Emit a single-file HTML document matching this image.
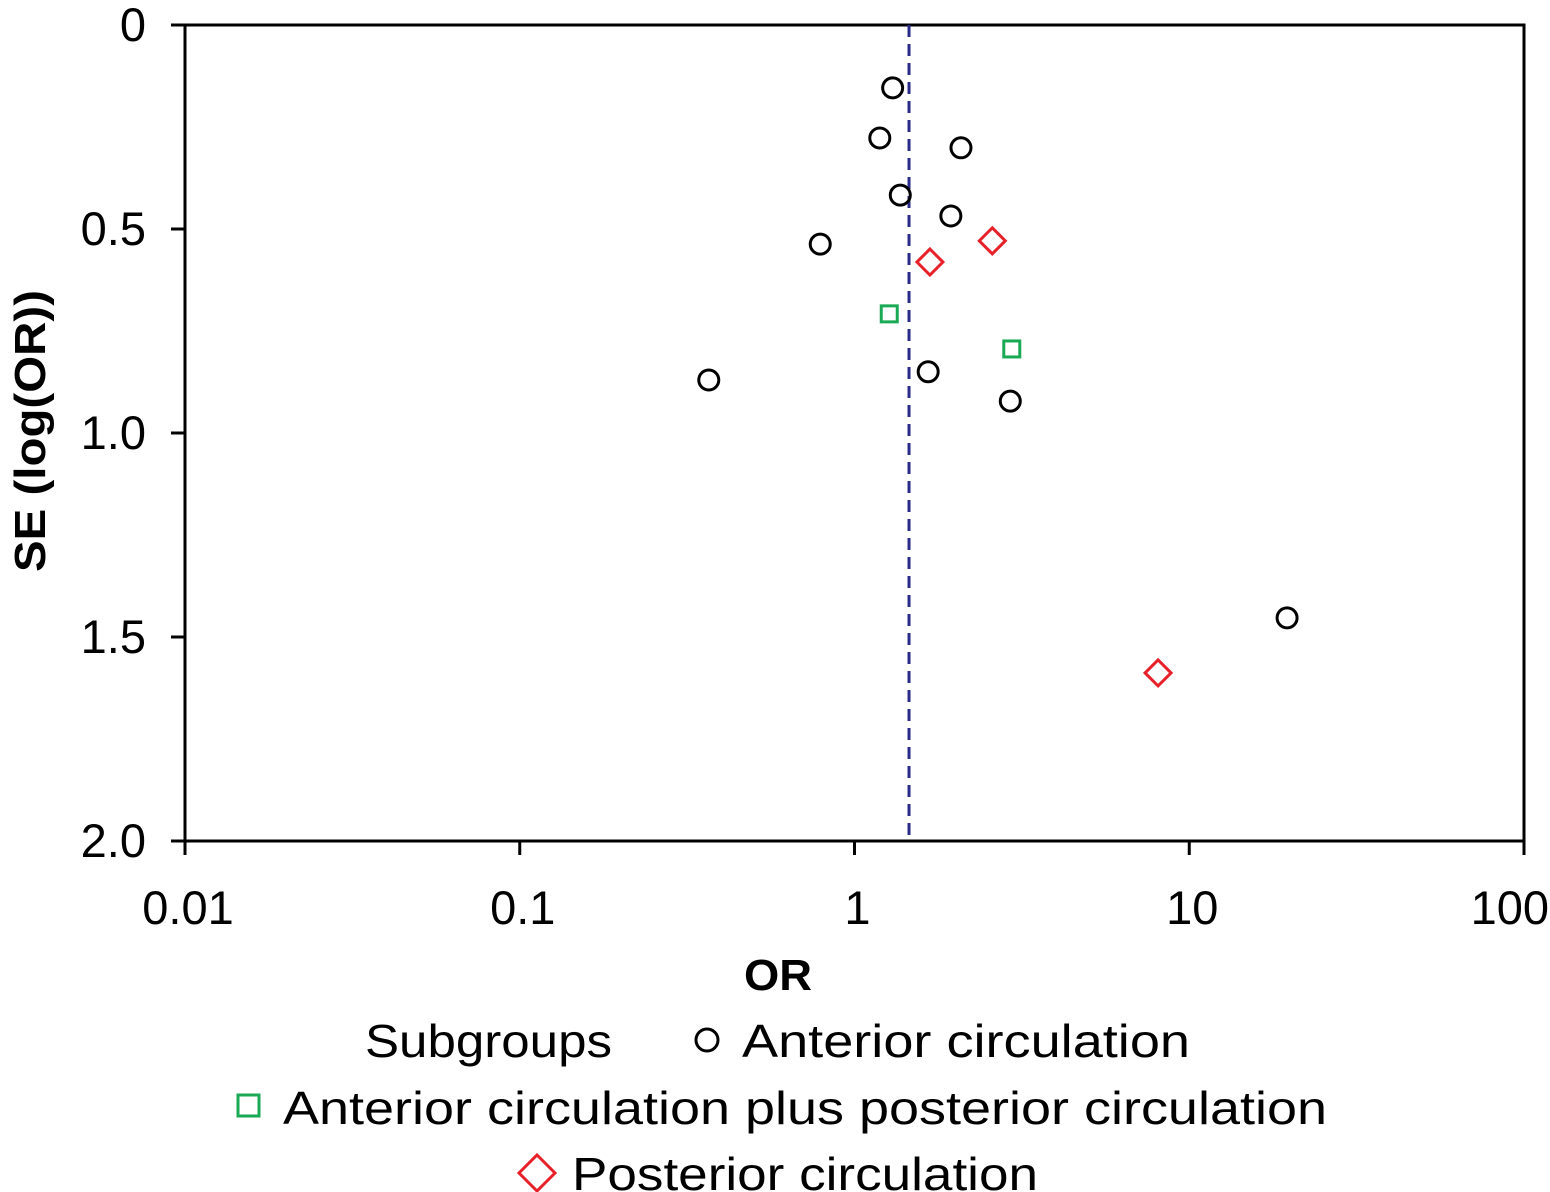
<!DOCTYPE html>
<html><head><meta charset="utf-8"><style>
html,body{margin:0;padding:0;background:#fff;}
svg{display:block;font-family:"Liberation Sans",sans-serif;}
</style></head><body>
<svg id="chart" width="1550" height="1192" viewBox="0 0 1550 1192">
<g id="axes"></g><g id="marks"></g>
<text x="744" y="990" font-size="44" font-weight="bold" textLength="68" lengthAdjust="spacingAndGlyphs">OR</text>
<text transform="translate(45,431) rotate(-90)" font-size="44" font-weight="bold" text-anchor="middle" textLength="282" lengthAdjust="spacingAndGlyphs">SE (log(OR))</text>
<g font-size="46">
<text x="365" y="1057" textLength="247" lengthAdjust="spacingAndGlyphs">Subgroups</text>
<circle cx="707" cy="1040" r="11" fill="none" stroke="#000" stroke-width="3"/>
<text x="742" y="1057" textLength="448" lengthAdjust="spacingAndGlyphs">Anterior circulation</text>
<rect x="238" y="1095" width="21" height="21" fill="none" stroke="#1aaa55" stroke-width="3"/>
<text x="283" y="1124" textLength="1044" lengthAdjust="spacingAndGlyphs">Anterior circulation plus posterior circulation</text>
<path d="M537 1155 L555 1173 L537 1191 L519 1173 Z" fill="none" stroke="#e8202a" stroke-width="3"/>
<text x="572" y="1190" textLength="466" lengthAdjust="spacingAndGlyphs">Posterior circulation</text>
</g>
</svg>
<script>
const xTicks=[0.01,0.1,1,10,100];
const xTickLabels=["0.01","0.1","1","10","100"];
const yTicks=[0,0.5,1.0,1.5,2.0];
const yTickLabels=["0","0.5","1.0","1.5","2.0"];
const pooledOR=1.455;
const anteriorOR=[1.30,1.19,2.08,1.37,1.94,0.79,0.367,1.66,2.92,19.6];
const anteriorSE=[0.154,0.277,0.301,0.417,0.468,0.537,0.870,0.850,0.922,1.453];
const combinedOR=[1.27,2.95];
const combinedSE=[0.708,0.794];
const posteriorOR=[1.68,2.58,8.07];
const posteriorSE=[0.581,0.529,1.588];

const X0=185,X1=1524,Y0=25,Y1=841;
const xs=v=>X0+(Math.log10(v)+2)/4*(X1-X0);
const ys=v=>Y0+v/2*(Y1-Y0);
const NS="http://www.w3.org/2000/svg";
function mk(tag,attrs,parent){const e=document.createElementNS(NS,tag);for(const k in attrs)e.setAttribute(k,attrs[k]);parent.appendChild(e);return e;}
const axes=document.getElementById('axes'),marks=document.getElementById('marks');
let e=mk('rect',{x:X0,y:Y0,width:X1-X0,height:Y1-Y0,fill:'none',stroke:'#000','stroke-width':3},axes);


xTicks.forEach((t,i)=>{
 const l=mk('line',{x1:xs(t),x2:xs(t),y1:Y1,y2:Y1+14,stroke:'#000','stroke-width':3},axes);
 
 
 let x=xs(t)+3, anchor='middle';
 if(x+xTickLabels[i].length*14>1549){x=1549;anchor='end';}
 const tx=mk('text',{x:x,y:924,'font-size':47,'text-anchor':anchor},axes);
 tx.textContent=xTickLabels[i];
 
 
});
yTicks.forEach((t,i)=>{
 const l=mk('line',{x1:X0-14,x2:X0,y1:ys(t),y2:ys(t),stroke:'#000','stroke-width':3},axes);
 
 
 const tx=mk('text',{x:146,y:ys(t)+16,'font-size':47,'text-anchor':'end'},axes);
 tx.textContent=yTickLabels[i];
 
 
});
e=mk('line',{x1:xs(pooledOR),x2:xs(pooledOR),y1:Y0,y2:Y1,stroke:'#2a2a8a','stroke-width':3,'stroke-dasharray':'12,7'},marks);


anteriorOR.forEach((v,i)=>{
 const c=mk('circle',{cx:xs(v),cy:ys(anteriorSE[i]),r:10,fill:'none',stroke:'#000','stroke-width':3},marks);
 
 
});
combinedOR.forEach((v,i)=>{
 const x=xs(v),y=ys(combinedSE[i]);
 const r=mk('rect',{x:x-8,y:y-8,width:16,height:16,fill:'none',stroke:'#1aaa55','stroke-width':3},marks);
 
 
});
posteriorOR.forEach((v,i)=>{
 const x=xs(v),y=ys(posteriorSE[i]);
 const p=mk('path',{d:`M${x} ${y-13}L${x+13} ${y}L${x} ${y+13}L${x-13} ${y}Z`,fill:'none',stroke:'#e8202a','stroke-width':3},marks);
 
 
});
</script>
</body></html>
